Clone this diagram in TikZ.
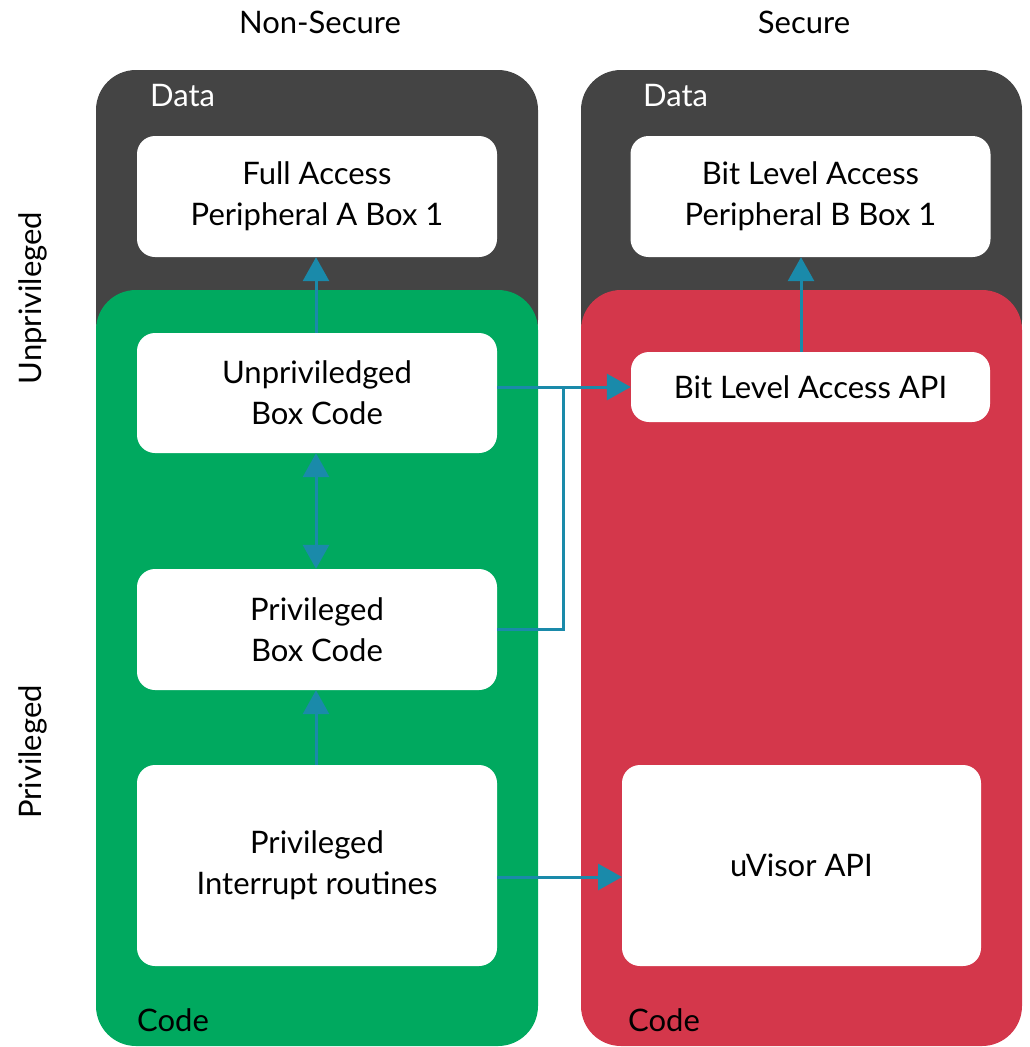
\documentclass[tikz,border=0pt]{standalone}
\usepackage{fontspec}
\setmainfont{Lato}
\usetikzlibrary{arrows.meta,calc}
\definecolor{panelgray}{HTML}{444444}
\definecolor{codegreen}{HTML}{00A95F}
\definecolor{codered}{HTML}{D4374B}
\definecolor{arrowblue}{HTML}{1A8AAA}
\begin{document}
\begin{tikzpicture}[x=1pt,y=-1pt,
  txt/.style={font=\fontsize{31}{41}\selectfont},
  wbox/.style={txt,fill=white,rounded corners=18pt,minimum width=360pt,align=center,inner sep=0pt},
  panel/.style={rounded corners=40pt},
  conn/.style={draw=arrowblue,line width=3pt,-{Triangle[length=24pt,width=26pt]}},
  dconn/.style={draw=arrowblue,line width=3pt,{Triangle[length=24pt,width=26pt]}-{Triangle[length=24pt,width=26pt]}}
]
\useasboundingbox (0,0) rectangle (1030,1047);
% panels
\fill[panelgray,panel] (96,70) rectangle (538,360);
\fill[codegreen,panel] (96,290) rectangle (538,1046);
\fill[panelgray,panel] (581,70) rectangle (1022,360);
\fill[codered,panel] (581,290) rectangle (1022,1046);
% headings
\node[txt] (ns) at (320,22) {Non-Secure};
\node[txt] (s) at (804,22) {Secure};
\node[txt,text=white,anchor=west,inner sep=0pt] (d1) at (150,96) {Data};
\node[txt,text=white,anchor=west,inner sep=0pt] (d2) at (643,96) {Data};
\node[txt,anchor=west,inner sep=0pt] (c1) at (137,1020) {Code};
\node[txt,anchor=west,inner sep=0pt] (c2) at (628,1020) {Code};
\node[txt,rotate=90] (up) at (33,298) {Unprivileged};
\node[txt,rotate=90] (pr) at (33,752) {Privileged};
% boxes
\node[wbox,minimum height=121pt] (fa) at (317,196.5) {Full Access\\Peripheral A Box 1};
\node[wbox,minimum height=121pt] (bl) at (810.5,196.5) {Bit Level Access\\Peripheral B Box 1};
\node[wbox,minimum height=120pt] (ub) at (317,393) {Unpriviledged\\Box Code};
\node[wbox,minimum height=70pt,minimum width=359pt] (api) at (810.5,387) {Bit Level Access API};
\node[wbox,minimum height=121pt] (pb) at (317,629.5) {Privileged\\Box Code};
\node[wbox,minimum height=201pt] (ir) at (317,865.5) {Privileged\\Interrupt routines};
\node[wbox,minimum height=201pt,minimum width=359pt] (uv) at (801.5,865.5) {uVisor API};
% connectors
\coordinate (j) at (563,387);
\coordinate (irr) at (497,877);
\coordinate (uvl) at (622,877);
\draw[conn] ([xshift=-1pt]ub.north) -- ([xshift=-1pt]fa.south);
\draw[dconn] ([xshift=-1pt]ub.south) -- ([xshift=-1pt]pb.north);
\draw[conn] ([xshift=-1pt]ir.north) -- ([xshift=-1pt]pb.south);
\draw[conn] (ub.east |- api.west) -- (api.west);
\draw[draw=arrowblue,line width=3pt] (pb.east) -- (pb.east -| j) -- (j);
\draw[conn] (irr) -- (uvl);
\draw[conn] ([xshift=-9.5pt]api.north) -- ([xshift=-9.5pt]bl.south);
\end{tikzpicture}
\end{document}
